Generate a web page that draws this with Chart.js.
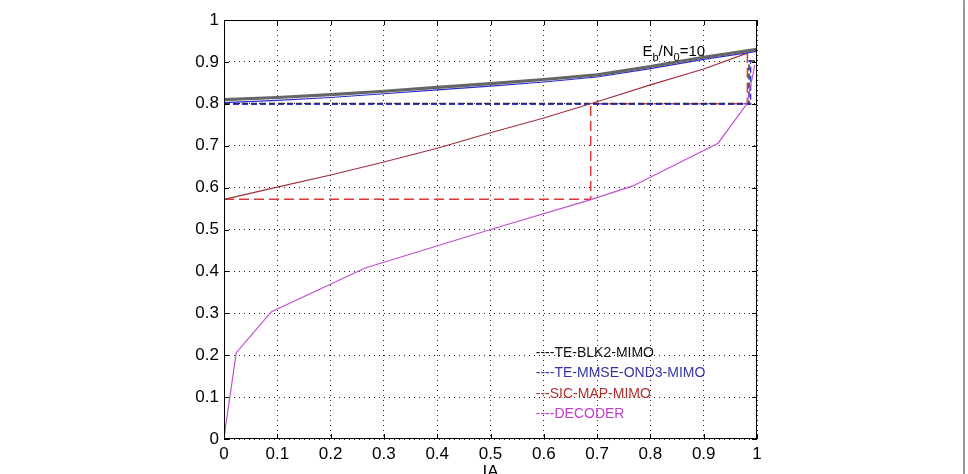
<!DOCTYPE html>
<html>
<head>
<meta charset="utf-8">
<script src="https://cdn.jsdelivr.net/npm/chart.js@4"></script>
<style>
  html, body { margin: 0; padding: 0; background: #fff; overflow: hidden; }
  #wrap { position: relative; width: 968px; height: 474px; }
  #frame { position: absolute; left: -10px; top: -10px; width: 975px; height: 500px;
           box-sizing: border-box; border: 2px solid #999; border-radius: 12px; }
  canvas { position: absolute; left: 0; top: 0; }
</style>
</head>
<body>
<div id="wrap">
  <div id="frame"></div>
  <canvas id="exitChart" width="968" height="474"></canvas>
</div>
<script>
// values
const teX   = [0, 0.1, 0.2, 0.3, 0.4, 0.5, 0.6, 0.7, 0.8, 0.9, 1.0];
const blkY  = [0.810, 0.815, 0.822, 0.830, 0.839, 0.848, 0.858, 0.869, 0.889, 0.911, 0.930];
const mmseY = [0.803, 0.808, 0.815, 0.824, 0.833, 0.842, 0.852, 0.864, 0.884, 0.906, 0.925];
const sicX  = [0, 0.1, 0.2, 0.3, 0.4, 0.5, 0.6, 0.7, 0.8, 0.9, 0.982];
const sicY  = [0.572, 0.601, 0.630, 0.661, 0.694, 0.731, 0.766, 0.805, 0.845, 0.883, 0.921];
const decX  = [0, 0.003, 0.023, 0.089, 0.265, 0.5, 0.69, 0.767, 0.927, 0.981, 0.996];
const decY  = [0, 0.03, 0.206, 0.304, 0.408, 0.5, 0.572, 0.604, 0.706, 0.800, 0.893];

// decoding trajectories (staircases)
const sicTrajX  = [0, 0.688, 0.688, 0.982, 0.982];
const sicTrajY  = [0.572, 0.572, 0.800, 0.800, 0.921];
const blkTrajX  = [0, 0.985, 0.985, 1.0];
const blkTrajY  = [0.801, 0.801, 0.902, 0.902];
const mmseTrajX = [0, 0.988, 0.988];
const mmseTrajY = [0.799, 0.799, 0.905];

const xTickLabels = ['0', '0.1', '0.2', '0.3', '0.4', '0.5', '0.6', '0.7', '0.8', '0.9', '1'];
const yTickLabels = ['0', '0.1', '0.2', '0.3', '0.4', '0.5', '0.6', '0.7', '0.8', '0.9', '1'];

const legendItems = [
  { text: '----TE-BLK2-MIMO', color: '#111' },
  { text: '----TE-MMSE-OND3-MIMO', color: '#3535a5' },
  { text: '---SIC-MAP-MIMO', color: '#b03030' },
  { text: '----DECODER', color: '#c040c8' }
];

const FONT = "'Liberation Sans', Arial, Helvetica, sans-serif";
const pts = (xs, ys) => xs.map((x, i) => ({ x: x, y: ys[i] }));

function line(data, color, width, dash) {
  return {
    data: data, borderColor: color, borderWidth: width, borderDash: dash || [],
    pointRadius: 0, fill: false, tension: 0
  };
}

const matlabBox = {
  id: 'matlabBox',
  afterDatasetsDraw(chart) {
    const ctx = chart.ctx;
    const a = chart.chartArea;
    const xs = chart.scales.x, ys = chart.scales.y;
    ctx.save();
    ctx.strokeStyle = '#000';
    ctx.lineWidth = 1;
    ctx.strokeRect(a.left + 0.5, a.top + 0.5, a.right - a.left - 1, a.bottom - a.top - 1);
    ctx.beginPath();
    xTickLabels.forEach((t, i) => {
      const px = Math.round(xs.getPixelForValue(i / 10)) + 0.5;
      ctx.moveTo(px, a.bottom); ctx.lineTo(px, a.bottom - 5);
      ctx.moveTo(px, a.top); ctx.lineTo(px, a.top + 5);
    });
    yTickLabels.forEach((t, i) => {
      const py = Math.round(ys.getPixelForValue(i / 10)) + 0.5;
      ctx.moveTo(a.left, py); ctx.lineTo(a.left + 5, py);
      ctx.moveTo(a.right, py); ctx.lineTo(a.right - 5, py);
    });
    ctx.stroke();

    // Eb/N0 annotation
    ctx.fillStyle = '#000';
    ctx.textBaseline = 'alphabetic';
    ctx.textAlign = 'left';
    let x = xs.getPixelForValue(0.785);
    const base = ys.getPixelForValue(0.913);
    ctx.font = '15px ' + FONT;
    ctx.fillText('E', x, base); x += ctx.measureText('E').width;
    ctx.font = '11px ' + FONT;
    ctx.fillText('b', x, base + 5); x += ctx.measureText('b').width;
    ctx.font = '15px ' + FONT;
    ctx.fillText('/N', x, base); x += ctx.measureText('/N').width;
    ctx.font = '11px ' + FONT;
    ctx.fillText('0', x, base + 5); x += ctx.measureText('0').width;
    ctx.font = '15px ' + FONT;
    ctx.fillText('=10', x, base);

    // legend
    ctx.font = '14px ' + FONT;
    ctx.textBaseline = 'middle';
    const lx = xs.getPixelForValue(0.6) - 8;
    legendItems.forEach((it, i) => {
      ctx.fillStyle = it.color;
      ctx.fillText(it.text, lx, 353 + i * 20.4);
    });

    // x axis title
    ctx.fillStyle = '#000';
    ctx.font = '17px ' + FONT;
    ctx.textAlign = 'center';
    ctx.textBaseline = 'top';
    ctx.fillText('IA', (a.left + a.right) / 2, 464);
    ctx.restore();
  }
};

new Chart(document.getElementById('exitChart').getContext('2d'), {
  type: 'line',
  data: {
    datasets: [
      line(pts(teX, blkY), '#666', 3.2),
      line(pts(teX, blkY), '#fff', 1),
      line(pts(teX, mmseY), '#2a2ad0', 1.2),
      line(pts(sicX, sicY), '#a0303c', 1.2),
      line(pts(decX, decY), '#c050d0', 1.2),
      line(pts(mmseTrajX, mmseTrajY), '#3030d0', 1.4, [6, 3]),
      line(pts(blkTrajX, blkTrajY), '#222', 1.4, [6, 3]),
      line(pts(sicTrajX, sicTrajY), '#d43a3a', 1.5, [10, 5])
    ]
  },
  options: {
    responsive: false,
    animation: false,
    layout: { padding: { left: 0, right: 211, top: 20, bottom: 0 } },
    plugins: { legend: { display: false }, tooltip: { enabled: false } },
    scales: {
      x: {
        type: 'linear', min: 0, max: 1,
        afterFit: s => { s.height = 35; },
        ticks: {
          stepSize: 0.1, padding: 5, color: '#000', maxRotation: 0,
          font: { family: FONT, size: 17 },
          callback: (v, i) => xTickLabels[i]
        },
        grid: { color: '#222', lineWidth: 1, drawTicks: false },
        border: { display: false, dash: [1, 4] }
      },
      y: {
        type: 'linear', min: 0, max: 1,
        afterFit: s => { s.width = 224; },
        ticks: {
          stepSize: 0.1, padding: 5, color: '#000',
          font: { family: FONT, size: 17 },
          callback: (v, i) => yTickLabels[i]
        },
        grid: { color: '#222', lineWidth: 1, drawTicks: false },
        border: { display: false, dash: [1, 4] }
      }
    }
  },
  plugins: [matlabBox]
});
</script>
</body>
</html>
